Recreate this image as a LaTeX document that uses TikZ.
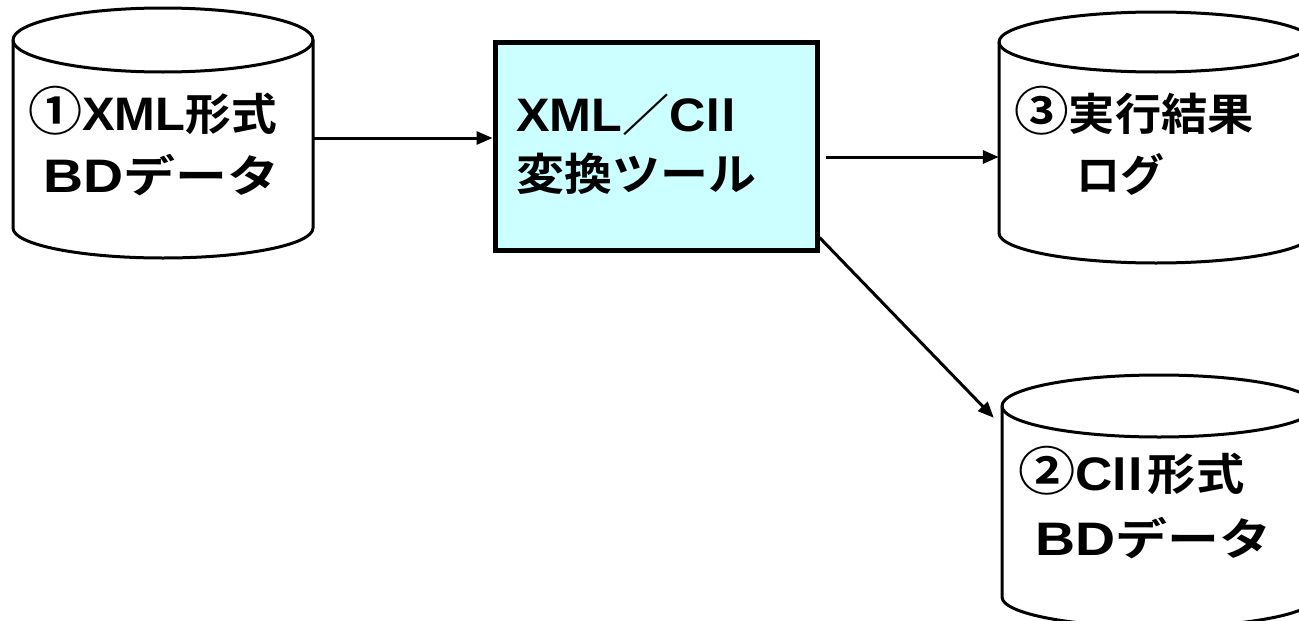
\documentclass[tikz,border=0pt]{standalone}
\usepackage{fontspec}
\usepackage{graphicx}
\setmainfont{Noto Sans CJK JP}[BoldFont={Noto Sans CJK JP Bold}]
\newfontfamily\latf{Liberation Sans}
\usetikzlibrary{arrows.meta}
\newcommand{\latx}[1]{{\latf\bfseries\fontsize{47}{47}\selectfont #1}}
\newcommand{\circd}[1]{{\fontsize{52}{52}\selectfont #1}}
\begin{document}
\begin{tikzpicture}[x=1pt,y=-1pt,
  cyl/.style={line width=3pt, fill=white, draw=black},
  body/.style={draw=none, inner sep=0pt, rectangle},
  lbl/.style={anchor=base west, inner sep=0pt, font=\bfseries\fontsize{44}{44}\selectfont},
  conn/.style={line width=3pt, -{Triangle[length=16pt,width=13pt]}},
  toolbox/.style={draw=black, line width=5pt, fill={rgb,255:red,204;green,255;blue,255}, rectangle, inner sep=0pt}]
\useasboundingbox (0,0) rectangle (1299,621);
\begin{scope}
\clip (0,0) rectangle (1299,621);
% left cylinder
\draw[cyl] (13,40) -- (13,228) arc[start angle=180,end angle=360,x radius=150pt,y radius=30pt] -- (313,40) arc[start angle=0,end angle=180,x radius=150pt,y radius=32pt] -- cycle;
\draw[line width=3pt] (13,40) arc[start angle=180,end angle=360,x radius=150pt,y radius=32pt];
\node[body, minimum width=300pt, minimum height=188pt] (c1) at (163,134) {};
% top right cylinder
\draw[cyl] (999,42) -- (999,233) arc[start angle=180,end angle=360,x radius=157pt,y radius=30pt] -- (1313,42) arc[start angle=0,end angle=180,x radius=157pt,y radius=30pt] -- cycle;
\draw[line width=3pt] (999,42) arc[start angle=180,end angle=360,x radius=157pt,y radius=30pt];
\node[body, minimum width=314pt, minimum height=191pt] (c3) at (1156,137.5) {};
% bottom right cylinder
\draw[cyl] (1002,406) -- (1002,597) arc[start angle=180,end angle=360,x radius=157pt,y radius=30pt] -- (1316,406) arc[start angle=0,end angle=180,x radius=157pt,y radius=31pt] -- cycle;
\draw[line width=3pt] (1002,406) arc[start angle=180,end angle=360,x radius=157pt,y radius=31pt];
\node[body, minimum width=314pt, minimum height=191pt] (c2) at (1159,501.5) {};
\end{scope}
% tool box
\node[toolbox, minimum width=322pt, minimum height=208pt] (box) at (656,146) {};
% labels
\node[lbl] (t1a) at (28,130) {\scalebox{1.04}[1]{\circd{①}\latx{XML}形式}};
\node[lbl] (t1b) at (43,192) {\scalebox{1.18}[1]{\latx{BD}データ}};
\node[lbl] (tba) at (516,131) {\scalebox{1.07}[1]{\latx{XML}／\latx{C}\kern-8ptⅡ}};
\node[lbl] (tbb) at (516,190) {\scalebox{1.09}[1]{変換ツール}};
\node[lbl] (t3a) at (1014,130) {\scalebox{1.05}[1]{\circd{③}実行結果}};
\node[lbl] (t3b) at (1076,191) {ログ};
\node[lbl] (t2a) at (1018,490) {\scalebox{1.1}[1]{\circd{②}\latx{C}\kern-8ptⅡ\kern-4pt形式}};
\node[lbl] (t2b) at (1035,555) {\scalebox{1.18}[1]{\latx{BD}データ}};
% connectors
\coordinate (ya) at (0,138);
\coordinate (yb) at (0,157);
\draw[conn] (c1.east |- ya) -- (box.west |- ya);
\draw[conn] ([xshift=6pt]box.east |- yb) -- (c3.west |- yb);
\draw[conn] ([yshift=15pt]box.south east) -- ([xshift=-8pt,yshift=-12pt]c2.north west);
\end{tikzpicture}
\end{document}
